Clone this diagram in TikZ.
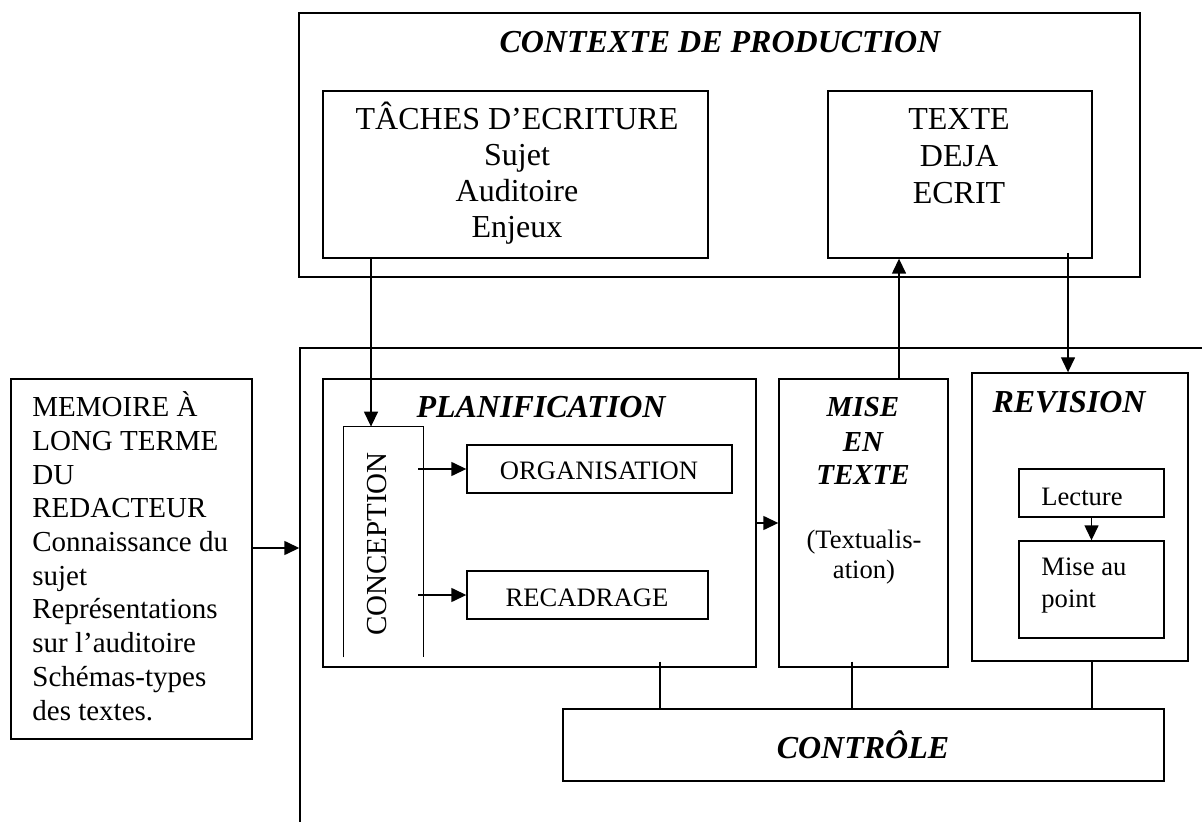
\documentclass[tikz,border=0pt]{standalone}
\usepackage{fontspec}
\setmainfont{Liberation Serif}
\usetikzlibrary{positioning}
\usetikzlibrary{calc,fit}
\usetikzlibrary{arrows.meta}

\tikzset{
  box/.style={draw, line width=0.7pt, inner sep=0pt},
  lab/.style={inner sep=0pt, align=center},
  titre/.style={inner sep=0pt, align=center, font=\fontsize{16}{18}\selectfont\bfseries\itshape},
  petit/.style={inner sep=0pt, font=\fontsize{13.3}{15}\selectfont},
  fleche/.style={line width=0.7pt, -{Triangle[length=7.5pt,width=7pt]}},
  trait/.style={line width=0.7pt},
}

\begin{document}
\begin{tikzpicture}[x=0.5pt, y=-0.5pt]
\useasboundingbox (0,0) rectangle (1202,822);

% contexte de production
\node[box, fit={(299,13) (1140,277)}] (ctx) {};
\node[titre, anchor=base] (ctxt) at (720,53) {CONTEXTE DE PRODUCTION};
\node[box, fit={(323,91) (708,258)}] (tache) {};
% multi-line text: base = last line
\node[lab, anchor=base, font=\fontsize{16}{18}\selectfont] (tachet) at (517,238)
  {TÂCHES D’ECRITURE\\Sujet\\Auditoire\\Enjeux};
\node[box, fit={(828,91) (1092,258)}] (texte) {};
\node[lab, anchor=base, font=\fontsize{16}{18.5}\selectfont] (textet) at (959,204)
  {TEXTE\\DEJA\\ECRIT};

% le redacteur
\begin{scope}
  \clip (0,0) rectangle (1202,822);
  \node[box, fit={(300,348) (1240,860)}] (redac) {};
\end{scope}
\node[box, fit={(11,379) (252,739)}] (memoire) {};
\node[inner sep=0pt, align=left, anchor=base west, font=\fontsize{14.5}{16.85}\selectfont] (memoiret) at (32,720)
  {MEMOIRE À\\LONG TERME\\DU\\REDACTEUR\\Connaissance du\\sujet\\Représentations\\sur l’auditoire\\Schémas-types\\des textes.};

% planification
\node[box, fit={(323,379) (756,667)}] (planif) {};
\node[titre, anchor=base] (planift) at (541,418) {PLANIFICATION};
\node[inner sep=0pt, fit={(344,427) (423,657)}] (conc) {};
\draw[trait] (conc.south west) |- (conc.north east) -- (conc.south east);
\node[inner sep=0pt, rotate=90, font=\fontsize{14.5}{16}\selectfont] (conct) at (377,544) {CONCEPTION};
\node[box, fit={(467,445) (732,493)}] (orga) {};
\node[petit, anchor=base] (orgat) at (599,480) {ORGANISATION};
\node[box, fit={(467,571) (708,619)}] (recad) {};
\node[petit, anchor=base] (recadt) at (587,606) {RECADRAGE};

% mise en texte
\node[box, fit={(779,379) (948,667)}] (mise) {};
\node[titre, anchor=base, font=\fontsize{14.5}{17}\selectfont\bfseries\itshape] (miset) at (863,485)
  {MISE\\EN\\TEXTE};
\node[petit, align=center, anchor=base] (textu) at (864,578) {(Textualis-\\ation)};

% revision
\node[box, fit={(972,373) (1188,661)}] (rev) {};
\node[titre, anchor=base] (revt) at (1069,413) {REVISION};
\node[box, fit={(1019,469) (1164,517)}] (lect) {};
\node[petit, anchor=base west] (lectt) at (1041,505) {Lecture};
\node[box, fit={(1019,541) (1164,638)}] (point) {};
\node[petit, align=left, anchor=base west, font=\fontsize{13.3}{16}\selectfont] (pointt) at (1041,607)
  {Mise au\\point};

% controle
\node[box, fit={(563,709) (1164,781)}] (ctrl) {};
\node[titre, anchor=base] (ctrlt) at (863,758) {CONTRÔLE};

% fleches
\coordinate (xa) at (371,0);
\coordinate (xb) at (899,0);
\coordinate (xc) at (1068,253);
\coordinate (xo) at (418,0);
\coordinate (ym) at (0,548);
\draw[fleche] (tache.south -| xa) -- (conc.north -| xa);
\draw[fleche] (mise.north -| xb) -- (texte.south -| xb);
\draw[fleche] (xc) -- (xc |- rev.north);
\draw[fleche] (memoire.east |- ym) -- (redac.west |- ym);
\draw[fleche] (xo |- orga) -- (orga.west);
\draw[fleche] (xo |- recad) -- (recad.west);
\draw[fleche] (planif.east) -- (mise.west);
\draw[fleche] (lect) -- (point);
\foreach \n/\x/\s in {planif/660/3pt, mise/852/3pt, rev/1092/0pt}{
  \coordinate (k) at (\x,0);
  \draw[trait] ([yshift=\s]\n.south -| k) -- (ctrl.north -| k);
}
\end{tikzpicture}
\end{document}
